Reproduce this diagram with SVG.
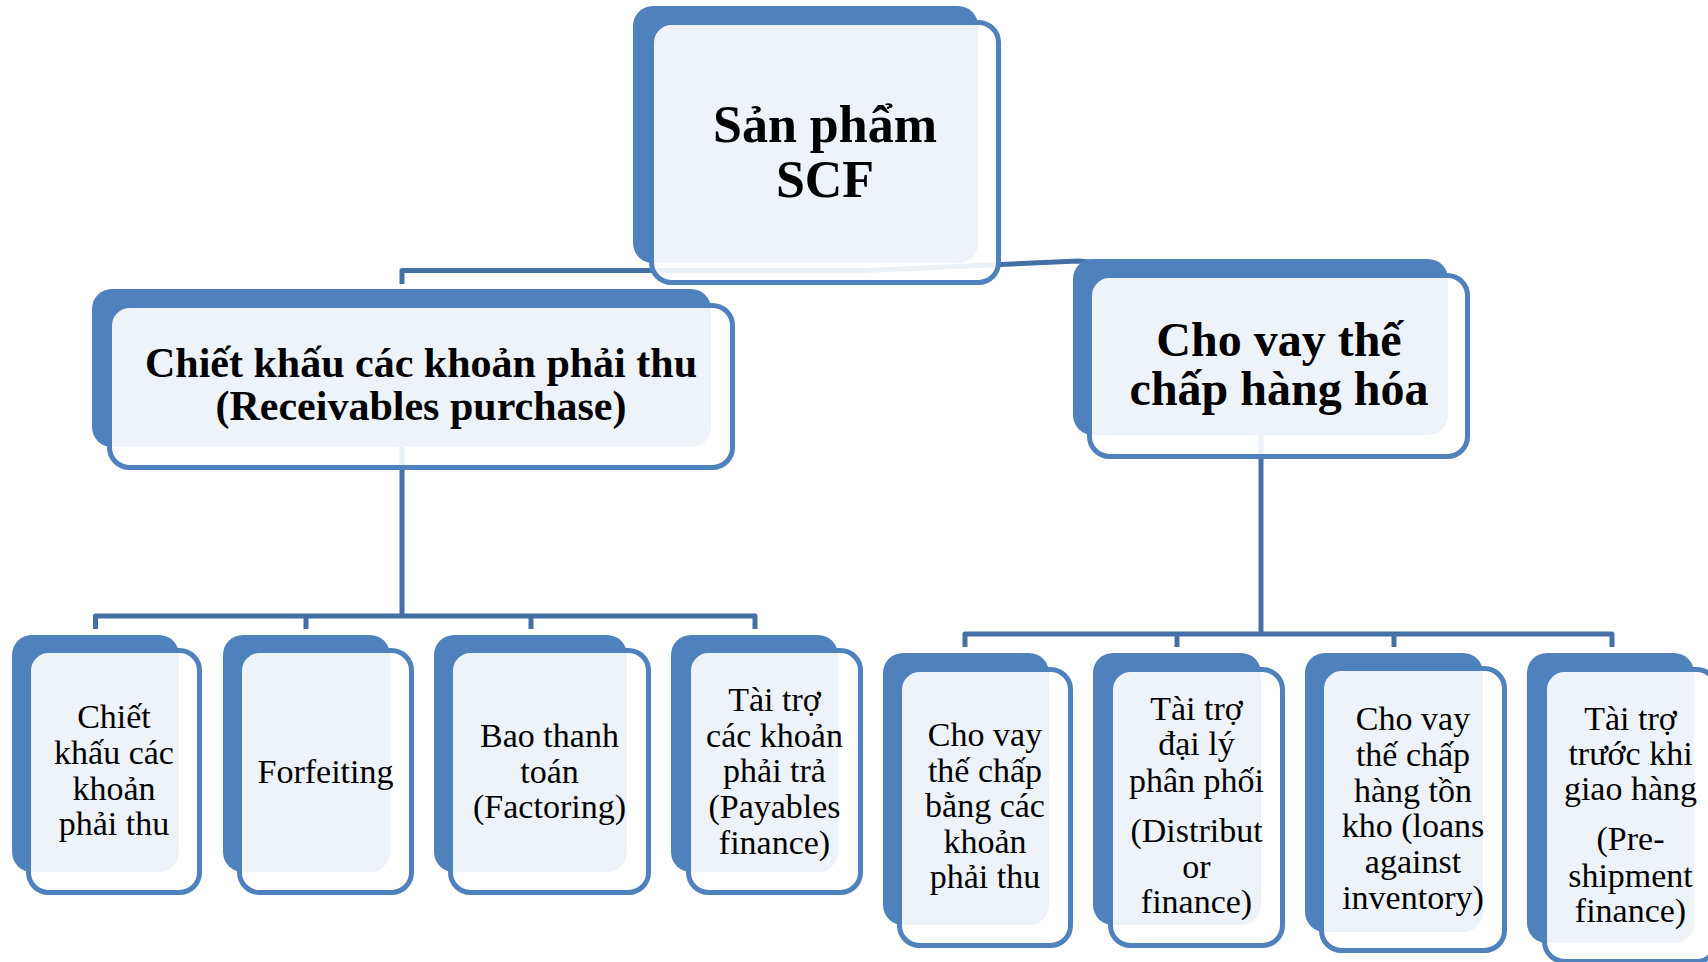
<svg xmlns="http://www.w3.org/2000/svg" width="1708" height="962" viewBox="0 0 1708 962">
<style>
.bk{fill:#4F81BD;}
.fr{fill:#FFFFFF;fill-opacity:0.9;stroke:#4F81BD;stroke-width:5;}
.cn{fill:none;stroke:#4470A6;stroke-width:5;stroke-linejoin:round;}
.t{font-family:"Liberation Serif","Times New Roman",serif;fill:#000;text-anchor:middle;}
.b{font-weight:bold;}
.lf{font-size:34px;}
</style>
<rect width="1708" height="962" fill="#FFFFFF"/>
<g id="connectors">
<path class="cn" d="M402,284 V270.5 H865 L1078,261 L1260,276"/>
<path class="cn" d="M402,447 V616"/>
<path class="cn" d="M95.5,629 V616 H755 V629 M306,616 V629 M531,616 V629"/>
<path class="cn" d="M1261,435 V634"/>
<path class="cn" d="M965,647 V634 H1612 V647 M1177,634 V647 M1394,634 V647"/>
</g>
<g id="root">
<rect class="bk" x="633" y="6" width="345" height="257" rx="20"/>
<rect class="fr" x="651.5" y="22.5" width="347" height="260" rx="20"/>
<text class="t b" font-size="52" x="825" y="142">Sản phẩm</text>
<text class="t b" font-size="52" x="825" y="197">SCF</text>
</g>
<g id="receivables">
<rect class="bk" x="92" y="289" width="619" height="158" rx="20"/>
<rect class="fr" x="109.5" y="305.5" width="623" height="162" rx="20"/>
<text class="t b" font-size="42" x="421" y="377">Chiết khấu các khoản phải thu</text>
<text class="t b" font-size="42" x="421" y="420">(Receivables purchase)</text>
</g>
<g id="collateral">
<rect class="bk" x="1073" y="259" width="375" height="176" rx="20"/>
<rect class="fr" x="1089.5" y="275.5" width="378" height="181" rx="20"/>
<text class="t b" font-size="48" x="1279" y="356">Cho vay thế</text>
<text class="t b" font-size="48" x="1279" y="405">chấp hàng hóa</text>
</g>
<g id="leaf1">
<rect class="bk" x="12" y="635" width="167" height="237" rx="20"/>
<rect class="fr" x="28.5" y="650.5" width="171" height="242" rx="20"/>
<text class="t lf" x="114"><tspan x="114" y="728">Chiết</tspan><tspan x="114" y="764">khấu các</tspan><tspan x="114" y="800">khoản</tspan><tspan x="114" y="835">phải thu</tspan></text>
</g>
<g id="leaf2">
<rect class="bk" x="223" y="635" width="167" height="237" rx="20"/>
<rect class="fr" x="239.5" y="650.5" width="172" height="242" rx="20"/>
<text class="t lf" x="325.5" y="783">Forfeiting</text>
</g>
<g id="leaf3">
<rect class="bk" x="434" y="635" width="193" height="237" rx="20"/>
<rect class="fr" x="450.5" y="650.5" width="198" height="242" rx="20"/>
<text class="t lf"><tspan x="549.5" y="747">Bao thanh</tspan><tspan x="549.5" y="783">toán</tspan><tspan x="549.5" y="818">(Factoring)</tspan></text>
</g>
<g id="leaf4">
<rect class="bk" x="671" y="635" width="167" height="237" rx="20"/>
<rect class="fr" x="688.5" y="650.5" width="172" height="242" rx="20"/>
<text class="t lf"><tspan x="774.5" y="711">Tài trợ</tspan><tspan x="774.5" y="747">các khoản</tspan><tspan x="774.5" y="782">phải trả</tspan><tspan x="774.5" y="818">(Payables</tspan><tspan x="774.5" y="854">finance)</tspan></text>
</g>
<g id="leaf5">
<rect class="bk" x="883" y="653" width="166" height="272" rx="20"/>
<rect class="fr" x="899.5" y="669.5" width="171" height="276" rx="20"/>
<text class="t lf"><tspan x="985" y="746">Cho vay</tspan><tspan x="985" y="782">thế chấp</tspan><tspan x="985" y="817">bằng các</tspan><tspan x="985" y="853">khoản</tspan><tspan x="985" y="888">phải thu</tspan></text>
</g>
<g id="leaf6">
<rect class="bk" x="1093" y="653" width="168" height="272" rx="20"/>
<rect class="fr" x="1110.5" y="669.5" width="172" height="276" rx="20"/>
<text class="t lf"><tspan x="1196.5" y="720">Tài trợ</tspan><tspan x="1196.5" y="755">đại lý</tspan><tspan x="1196.5" y="792">phân phối</tspan><tspan x="1196.5" y="842">(Distribut</tspan><tspan x="1196.5" y="878">or</tspan><tspan x="1196.5" y="913">finance)</tspan></text>
</g>
<g id="leaf7">
<rect class="bk" x="1305" y="653" width="178" height="279" rx="20"/>
<rect class="fr" x="1321.5" y="668.5" width="183" height="282" rx="20"/>
<text class="t lf"><tspan x="1413" y="730">Cho vay</tspan><tspan x="1413" y="766">thế chấp</tspan><tspan x="1413" y="802">hàng tồn</tspan><tspan x="1413" y="837">kho (loans</tspan><tspan x="1413" y="873">against</tspan><tspan x="1413" y="909">inventory)</tspan></text>
</g>
<g id="leaf8">
<rect class="bk" x="1527" y="653" width="167" height="290" rx="20"/>
<rect class="fr" x="1544.5" y="669.5" width="172" height="292" rx="20"/>
<text class="t lf"><tspan x="1630.5" y="730">Tài trợ</tspan><tspan x="1630.5" y="765">trước khi</tspan><tspan x="1630.5" y="800">giao hàng</tspan><tspan x="1630.5" y="850">(Pre-</tspan><tspan x="1630.5" y="887">shipment</tspan><tspan x="1630.5" y="922">finance)</tspan></text>
</g>
</svg>
